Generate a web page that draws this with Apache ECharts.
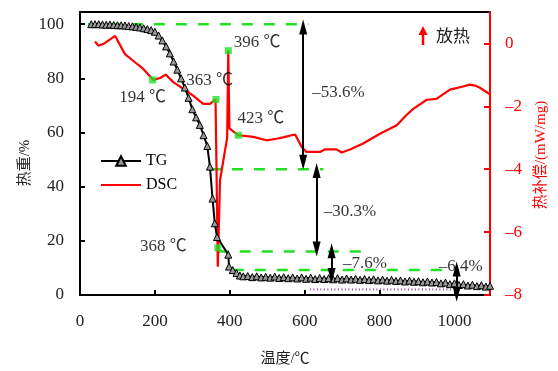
<!DOCTYPE html>
<html><head><meta charset="utf-8">
<script src="https://cdn.jsdelivr.net/npm/echarts@6/dist/echarts.min.js"></script>
<style>html,body{margin:0;padding:0;background:#fff}#c{width:558px;height:371px}</style>
</head><body><div id="c"></div>
<script>
// ---- data ----
const tgTemp = [30,40,50,60,70,80,90,100,110,120,130,140,150,160,170,180,190,200,210,220,230,240,250,260,270,280,290,300,310,320,330,340,347,354,360,366,396,398,408,418,427,436,448,460,472,484,496,508,520,532,544,556,568,580,592,604,616,628,640,652,664,676,688,700,712,724,736,748,760,772,784,796,808,820,832,844,856,868,880,892,904,916,928,940,952,964,976,988,1000,1012,1024,1036,1048,1060,1072,1084,1095];
const tgWeight = [100,100,100,99.9,99.8,99.9,99.7,99.6,99.6,99.5,99.3,99.2,99.0,98.8,98.5,98.2,97.8,97.2,95.8,94.0,91.8,89.2,86.2,83.2,80.0,76.6,72.8,68.6,65.6,62.8,59.0,55.0,47.4,35.6,26.5,21.4,14.9,10.5,9.2,8.1,7.2,6.9,7.0,6.6,6.9,6.5,6.7,6.4,6.8,6.3,6.6,6.2,6.5,6.1,6.5,6.0,6.4,5.9,6.3,5.9,6.2,5.8,6.2,5.7,6.1,5.7,6.0,5.6,5.9,5.5,5.8,5.4,5.7,5.3,5.6,5.2,5.4,5.0,5.3,4.9,5.1,4.7,5.0,4.6,4.8,4.3,4.6,4.0,4.3,3.7,4.0,3.5,3.8,3.3,3.6,3.1,3.4];

const dscTemp = [40,49,62,94,120,142,169,196,214,229,249,276,302,329,347,362,364,368,374,393,396,399,423,463,498,525,545,565,575,592,605,641,654,685,699,721,756,801,846,870,890,926,952,988,1023,1041,1055,1068,1095];
const dscHeat = [0.06,-0.07,-0.02,0.24,-0.34,-0.55,-0.81,-1.16,-1.10,-0.99,-1.23,-1.44,-1.66,-1.92,-1.92,-1.78,-3.5,-7.1,-4.35,-3.0,-0.23,-2.7,-2.92,-2.97,-3.08,-3.03,-2.98,-2.92,-2.90,-3.29,-3.45,-3.45,-3.37,-3.37,-3.47,-3.37,-3.18,-2.87,-2.6,-2.3,-2.08,-1.79,-1.76,-1.47,-1.37,-1.31,-1.34,-1.41,-1.62];

const peakTemp = [194,363,368,396,423];
const peakHeat = [-1.16,-1.78,-6.5,-0.23,-2.92];
const peakText = ['194 ℃','363 ℃','368 ℃','396 ℃','423 ℃'];
const peakTextT = [167,346,223,473,483];
const peakTextW = [73.1,79.3,17.8,93.4,65.0];

// mass-loss stage levels (green dashed guides)
const stageLevel = [100,46.4,16.1,9.2];
const stageStart = [21,347,368,408];
const stageEnd = [610,650,775,988];

// mass-loss arrows
const lossText = ['–53.6%','–30.3%','–7.6%','–6.4%'];
const lossT = [596,632,672,1006];
const lossFrom = [99,46,16.3,9.6];
const lossTo = [49,17,7.2,0.3];
const lossTextT = [690,721,761,1017];
const lossTextW = [74.9,30.8,11.8,10.5];

const residueT = [614,997];
const residueW = [2.0,2.0];

const xTicks = {min:0,max:1095,interval:200};
const yLeft = {min:0,max:104.5,interval:20};
const yRight = {min:-8,max:1,interval:2};

// ---- chart ----
const FONT = "'Liberation Serif','Noto Sans CJK SC',serif";
const RED = '#ff0000', GREEN = '#22e022';
const chart = echarts.init(document.getElementById('c'));

const series = [];
stageLevel.forEach((lv,i)=>{
  series.push({type:'line',yAxisIndex:0,data:[[stageStart[i],lv],[stageEnd[i],lv]],symbol:'none',silent:true,
    lineStyle:{color:GREEN,width:2.5,type:[11,11]},z:2});
});
series.push({type:'line',yAxisIndex:0,data:residueT.map((t,i)=>[t,residueW[i]]),symbol:'none',
  lineStyle:{color:'#9933aa',width:2,type:[1,2.5]},z:2});
series.push({name:'TG',type:'line',yAxisIndex:0,data:tgTemp.map((t,i)=>[t,tgWeight[i]]),
  symbol:'triangle',symbolSize:7,showSymbol:true,
  itemStyle:{color:'#999',borderColor:'#000',borderWidth:1},
  lineStyle:{color:'#000',width:2},z:4});
series.push({name:'DSC',type:'line',yAxisIndex:1,data:dscTemp.map((t,i)=>[t,dscHeat[i]]),
  symbol:'none',lineStyle:{color:RED,width:2.2},itemStyle:{color:RED},z:3});
series.push({type:'scatter',yAxisIndex:1,data:peakTemp.map((t,i)=>[t,peakHeat[i]]),
  symbol:'rect',symbolSize:7,itemStyle:{color:GREEN},z:5});
series.push({type:'line',yAxisIndex:0,data:[],symbol:'none',
  markLine:{silent:true,symbol:['triangle','triangle'],symbolSize:[8,15],
    lineStyle:{color:'#000',width:2,type:'solid'},label:{show:false},
    data:lossT.map((t,i)=>[{coord:[t,lossFrom[i]]},{coord:[t,lossTo[i]]}])},z:6});
series.push({type:'scatter',yAxisIndex:0,symbolSize:0,z:7,
  data:peakText.map((s,i)=>({value:[peakTextT[i],peakTextW[i]],name:s})).concat(
       lossText.map((s,i)=>({value:[lossTextT[i],lossTextW[i]],name:s}))),
  label:{show:true,position:'inside',formatter:p=>p.name,color:'#000',fontSize:17,fontFamily:FONT}});

chart.setOption({
  animation:false,
  grid:{left:80,right:68,top:12,bottom:76,show:true,borderColor:'#000',borderWidth:2},
  legend:{data:[{name:'TG'},{name:'DSC',icon:'path://M0,0L40,0L40,2.2L0,2.2Z'}],
    orient:'vertical',left:95,top:148,itemWidth:40,itemHeight:12,itemGap:8,
    textStyle:{fontFamily:FONT,fontSize:16,color:'#000'}},
  xAxis:{type:'value',min:xTicks.min,max:xTicks.max,interval:xTicks.interval,
    axisLine:{lineStyle:{color:'#000',width:2}},
    axisTick:{inside:true,length:5,lineStyle:{width:2}},
    axisLabel:{showMaxLabel:false,margin:18,color:'#222',fontSize:17,fontFamily:FONT,formatter:v=>String(v)},
    splitLine:{show:false}},
  yAxis:[
    {type:'value',min:yLeft.min,max:yLeft.max,interval:yLeft.interval,position:'left',
     axisLine:{show:true,lineStyle:{color:'#000',width:2}},
     axisTick:{show:true,inside:true,length:5,lineStyle:{width:2}},
     axisLabel:{showMaxLabel:false,margin:16,color:'#222',fontSize:17,fontFamily:FONT},
     splitLine:{show:false}},
    {type:'value',min:yRight.min,max:yRight.max,interval:yRight.interval,position:'right',
     axisLine:{show:true,lineStyle:{color:RED,width:2}},
     axisTick:{show:true,inside:true,length:6,lineStyle:{color:RED,width:2}},
     axisLabel:{showMaxLabel:false,margin:15,color:RED,fontSize:17,fontFamily:FONT,
       formatter:v=>String(v).replace('-','–')},
     splitLine:{show:false}}
  ],
  graphic:[
    {type:'text',x:25,y:163,rotation:Math.PI/2,style:{text:'热重/%',fill:'#222',font:"15px "+FONT,textAlign:'center',textVerticalAlign:'middle'}},
    {type:'text',x:541,y:155,rotation:Math.PI/2,style:{text:'热补偿/(mW/mg)',fill:RED,font:"15px "+FONT,textAlign:'center',textVerticalAlign:'middle'}},
    {type:'text',x:285,y:359,style:{text:'温度/℃',fill:'#222',font:"15px "+FONT,textAlign:'center',textVerticalAlign:'middle'}},
    {type:'line',shape:{x1:423,y1:45,x2:423,y2:33},style:{stroke:RED,lineWidth:2.5}},
    {type:'polygon',shape:{points:[[418.5,35],[427.5,35],[423,26]]},style:{fill:RED}},
    {type:'text',x:436,y:36,style:{text:'放热',fill:'#222',font:"17px 'Noto Sans CJK SC'",textAlign:'left',textVerticalAlign:'middle'}}
  ],
  series:series
});
</script>
</body></html>
